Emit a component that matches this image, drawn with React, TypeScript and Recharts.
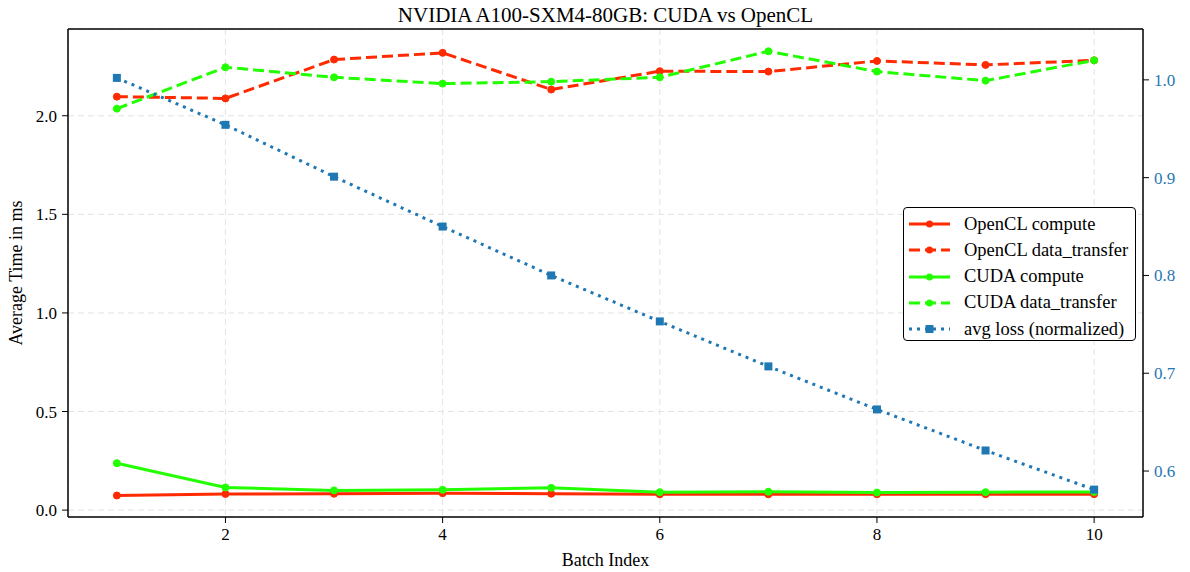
import {
  LineChart,
  Line,
  XAxis,
  YAxis,
  CartesianGrid,
  ReferenceLine,
} from "recharts";

const batches = [1, 2, 3, 4, 5, 6, 7, 8, 9, 10];
const openclCompute = [0.074, 0.082, 0.083, 0.086, 0.083, 0.080, 0.080, 0.080, 0.081, 0.081];
const openclTransfer = [2.097, 2.088, 2.285, 2.319, 2.133, 2.226, 2.224, 2.278, 2.258, 2.281];
const cudaCompute = [0.238, 0.115, 0.100, 0.103, 0.113, 0.091, 0.093, 0.089, 0.091, 0.092];
const cudaTransfer = [2.036, 2.246, 2.195, 2.163, 2.173, 2.195, 2.327, 2.224, 2.178, 2.281];
const avgLoss = [1.002, 0.954, 0.901, 0.85, 0.8, 0.753, 0.707, 0.663, 0.621, 0.581];

const xTicks = [2, 4, 6, 8, 10];
const leftTicks = [0, 0.5, 1.0, 1.5, 2.0];
const rightTicks = [0.6, 0.7, 0.8, 0.9, 1.0];

const RED = "#ff2a00";
const GREEN = "#22ff00";
const BLUE = "#1f77b4";
const FONT = '"Liberation Serif", "DejaVu Serif", serif';

const data = batches.map((b, i) => ({
  batch: b,
  oclCompute: openclCompute[i],
  oclTransfer: openclTransfer[i],
  cudaCompute: cudaCompute[i],
  cudaTransfer: cudaTransfer[i],
  loss: avgLoss[i],
}));

const legendItems = [
  { label: "OpenCL compute", color: RED, dash: undefined, square: false },
  { label: "OpenCL data_transfer", color: RED, dash: "11 5", square: false },
  { label: "CUDA compute", color: GREEN, dash: undefined, square: false },
  { label: "CUDA data_transfer", color: GREEN, dash: "11 5", square: false },
  { label: "avg loss (normalized)", color: BLUE, dash: "3 5", square: true },
];

function SquareDot(props: any) {
  const { cx, cy } = props;
  if (cx == null || cy == null) return null;
  return <rect x={cx - 4} y={cy - 4} width={8} height={8} fill={BLUE} />;
}

function fmt(v: number) {
  return v.toFixed(1);
}

export default function App() {
  const tick = { fontSize: 17, fill: "#000", fontFamily: FONT };
  return (
    <div style={{ position: "relative", width: 1182, height: 564, fontFamily: FONT }}>
      <style>{`.recharts-text, .recharts-cartesian-axis-tick-value { font-family: ${FONT}; }`}</style>

      <LineChart width={1182} height={564} data={data} margin={{ top: 21, right: 0, bottom: 0, left: 0 }}>
        <CartesianGrid stroke="#e3e3e3" strokeDasharray="6 4" />
        <XAxis
          dataKey="batch"
          type="number"
          domain={[0.55, 10.45]}
          ticks={xTicks}
          allowDataOverflow
          height={55}
          tick={tick}
          tickSize={6}
          tickMargin={5}
          axisLine={{ stroke: "#000", strokeWidth: 1.5 }}
          tickLine={{ stroke: "#000" }}
        />
        <YAxis
          type="number"
          domain={[-0.035, 2.44]}
          ticks={leftTicks}
          tickFormatter={fmt}
          allowDataOverflow
          width={60}
          tick={tick}
          tickSize={6}
          tickMargin={5}
          axisLine={{ stroke: "#000", strokeWidth: 1.5 }}
          tickLine={{ stroke: "#000" }}
        />
        <YAxis
          yAxisId="right"
          orientation="right"
          type="number"
          domain={[0.553, 1.052]}
          ticks={rightTicks}
          tickFormatter={fmt}
          allowDataOverflow
          width={47}
          tick={{ ...tick, fill: BLUE }}
          tickSize={6}
          tickMargin={5}
          axisLine={{ stroke: "#000", strokeWidth: 1.5 }}
          tickLine={{ stroke: "#000" }}
        />
        <ReferenceLine y={2.44} stroke="#000" strokeWidth={1.5} ifOverflow="visible" />

        <Line
          dataKey="oclCompute"
          stroke={RED}
          strokeWidth={3}
          dot={{ r: 3.5, fill: RED, stroke: RED, strokeWidth: 1 }}
          isAnimationActive={false}
        />
        <Line
          dataKey="oclTransfer"
          stroke={RED}
          strokeWidth={3}
          strokeDasharray="11 5"
          dot={{ r: 3.5, fill: RED, stroke: RED, strokeWidth: 1, strokeDasharray: "" }}
          isAnimationActive={false}
        />
        <Line
          dataKey="cudaCompute"
          stroke={GREEN}
          strokeWidth={3}
          dot={{ r: 3.5, fill: GREEN, stroke: GREEN, strokeWidth: 1 }}
          isAnimationActive={false}
        />
        <Line
          dataKey="cudaTransfer"
          stroke={GREEN}
          strokeWidth={3}
          strokeDasharray="11 5"
          dot={{ r: 3.5, fill: GREEN, stroke: GREEN, strokeWidth: 1, strokeDasharray: "" }}
          isAnimationActive={false}
        />
        <Line
          yAxisId="right"
          dataKey="loss"
          stroke={BLUE}
          strokeWidth={3}
          strokeDasharray="3 5"
          dot={<SquareDot />}
          isAnimationActive={false}
        />
      </LineChart>

      <div
        style={{
          position: "absolute",
          left: 597.5,
          top: -5,
          transform: "translateX(-50%)",
          whiteSpace: "nowrap",
          fontSize: 21,
          zIndex: 5,
        }}
      >
        NVIDIA A100-SXM4-80GB: CUDA vs OpenCL
      </div>
      <div
        style={{
          position: "absolute",
          left: 8,
          top: 265,
          transform: "translate(-50%, -50%) rotate(-90deg)",
          whiteSpace: "nowrap",
          fontSize: 18,
          zIndex: 5,
        }}
      >
        Average Time in ms
      </div>
      <div
        style={{
          position: "absolute",
          left: 597.5,
          top: 552,
          transform: "translate(-50%, -50%)",
          whiteSpace: "nowrap",
          fontSize: 18,
          zIndex: 5,
        }}
      >
        Batch Index
      </div>

      <div
        style={{
          position: "absolute",
          left: 895,
          top: 199,
          width: 233,
          height: 134,
          border: "1.5px solid #000",
          borderRadius: 4,
          background: "#fff",
          boxSizing: "border-box",
          zIndex: 5,
        }}
      >
        {legendItems.map((it, i) => (
          <div
            key={it.label}
            style={{
              position: "absolute",
              left: 5,
              top: 3 + i * 26.3,
              height: 26,
              display: "flex",
              alignItems: "center",
              whiteSpace: "nowrap",
              fontSize: 18.5,
            }}
          >
            <svg width={42} height={12} style={{ marginRight: 13 }}>
              <line
                x1={0}
                y1={6}
                x2={41}
                y2={6}
                stroke={it.color}
                strokeWidth={3}
                strokeDasharray={it.dash}
              />
              {it.square ? (
                <rect x={16.5} y={2} width={8} height={8} fill={it.color} />
              ) : (
                <circle cx={20.5} cy={6} r={3.5} fill={it.color} />
              )}
            </svg>
            <span>{it.label}</span>
          </div>
        ))}
      </div>
    </div>
  );
}
